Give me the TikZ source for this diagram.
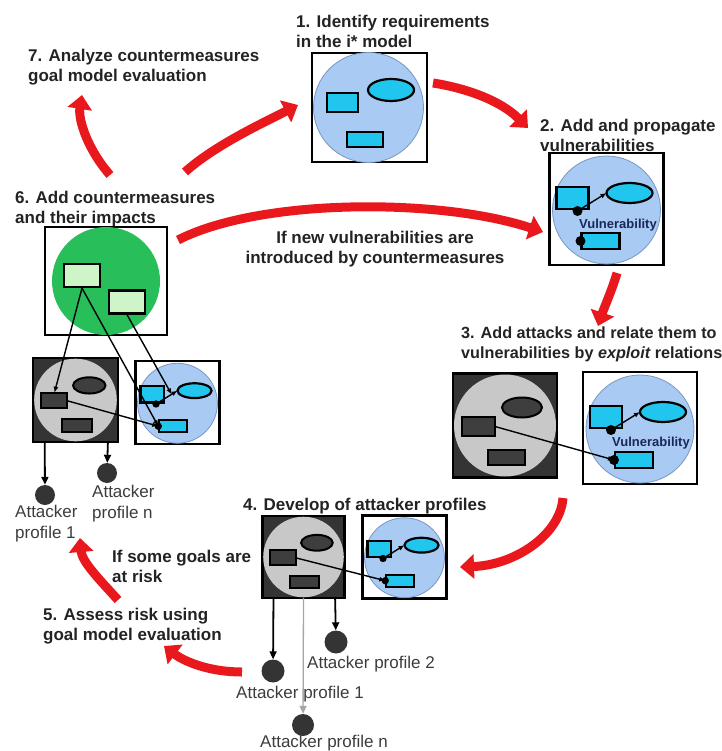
\documentclass[tikz,border=0pt]{standalone}
\usepackage{fontspec}
\setmainfont{Liberation Sans}
\usetikzlibrary{arrows.meta}
\definecolor{flowred}{RGB}{232,24,28}
\definecolor{vulnblue}{RGB}{168,202,243}
\definecolor{vulnedge}{RGB}{120,150,195}
\definecolor{goalcyan}{RGB}{32,198,238}
\definecolor{cmgreen}{RGB}{40,190,90}
\definecolor{cmlight}{RGB}{205,245,200}
\definecolor{attdark}{RGB}{52,52,52}
\definecolor{attlight}{RGB}{200,200,200}
\definecolor{attgray}{RGB}{62,62,62}
\definecolor{inktext}{RGB}{35,35,35}
\definecolor{proftext}{RGB}{60,60,60}
\definecolor{vulntext}{RGB}{25,40,90}

\begin{document}
\begin{tikzpicture}[
  x=1pt, y=-1pt,
  flow/.style={flowred, line width=9pt, -{Triangle[length=14pt,width=24pt]}},
  title/.style={font=\fontsize{17}{20}\selectfont\bfseries, text=inktext, align=left, inner sep=0pt},
  note/.style={title, align=center},
  proflabel/.style={font=\fontsize{17}{21}\selectfont, text=proftext, align=left, inner sep=0pt},
  vulnlabel/.style={font=\fontsize{13}{15}\selectfont\bfseries, text=vulntext, inner sep=0pt},
  modelbox/.style={draw=black, fill=white, line width=2.6pt},
  vulncircle/.style={draw=vulnedge, fill=vulnblue, line width=.8pt},
  goalpart/.style={draw=black, fill=goalcyan, line width=2.2pt},
  attbox/.style={draw=black, fill=attdark, line width=2.2pt},
  attpart/.style={draw=black, fill=attgray, line width=2pt},
  cmpart/.style={draw=black, fill=cmlight, line width=2.2pt, minimum width=36pt, minimum height=23pt},
  link/.style={line width=1.4pt, -{Latex[length=6pt,width=5pt]}},
  profdot/.style={circle, fill=attdark, inner sep=0pt, minimum size=23pt},
  profarrow/.style={line width=1.8pt, -{Triangle[length=8pt,width=7pt]}},
  goalmodel/.pic={
    \draw[modelbox] (-57.5,-54.5) rectangle (57.5,54.5);
    \draw[vulncircle] (-1,0) circle[radius=55];
    \draw[goalpart] (-42.5,-14.5) rectangle (-11.5,4.5);
    \draw[goalpart] (21.5,-17.5) ellipse[x radius=23,y radius=11];
    \draw[goalpart] (-22.5,24.5) rectangle (13.5,39.5);
  },
  vulnmodel/.pic={
    \draw[modelbox] (-57,-56) rectangle (57,56);
    \draw[vulncircle] (0,1) circle[radius=54];
    \draw[goalpart] (-50,-22) rectangle (-18,0);
    \draw[goalpart] (23,-16) ellipse[x radius=23,y radius=10];
    \draw[goalpart] (-25,24) rectangle (13,40);
    \coordinate (-dot) at (-29,2);
    \coordinate (-dotb) at (-26,32);
    \coordinate (-goal) at (0,-16);
    \coordinate (-mid) at (-8,-11);
    \fill (-dot) circle[radius=5];
    \fill (-dotb) circle[radius=5];
    \draw[link] (-dot) -- (-goal);
  },
  attackmodel/.pic={
    \draw[attbox] (-52,-52) rectangle (52,52);
    \fill[attlight] (0,0) circle[radius=51];
    \draw[attpart] (17,-18) ellipse[x radius=20,y radius=10];
    \draw[attpart] (-43,-9) rectangle (-10,10);
    \draw[attpart] (-17,24) rectangle (20,39);
    \coordinate (-act) at (-10,1);
    \coordinate (-acttop) at (-26,-9);
    \coordinate (-pl) at (-38,52);
    \coordinate (-pm) at (0,52);
    \coordinate (-pr) at (40,52);
  },
]
\useasboundingbox (0,0) rectangle (721,751);

% step titles (base = last line)
\node[title, anchor=base west] (s1) at (296,48) {1. Identify requirements\\in the i* model};
\node[title, anchor=base west] (s2) at (540,152) {2. Add and propagate\\vulnerabilities};
\node[title, anchor=base west, font=\fontsize{16.2}{20}\selectfont\bfseries] (s3) at (461,358) {3. Add attacks and relate them to\\vulnerabilities by {\itshape exploit} relations};
\node[title, anchor=base west] (s4) at (243,510) {4. Develop of attacker profiles};
\node[title, anchor=base west] (s5) at (43,640) {5. Assess risk using\\goal model evaluation};
\node[title, anchor=base west] (s6) at (15,223) {6. Add countermeasures\\and their impacts};
\node[title, anchor=base west] (s7) at (28,82) {7. Analyze countermeasures\\goal model evaluation};
\node[title, anchor=base west] (risk) at (112,582) {If some goals are\\at risk};
\node[note, anchor=base] (newvuln) at (375,263) {If new vulnerabilities are\\introduced by countermeasures};

% models
\pic (g1) at (369.5,107.5) {goalmodel};
\pic (v2) at (606.5,209) {vulnmodel};
\pic (a3) at (505,425.5) {attackmodel};
\pic (v3) at (640,428) {vulnmodel};
\pic[scale=.79] (a4) at (303.5,557) {attackmodel};
\pic[scale=.74] (v4) at (404.5,557) {vulnmodel};
\pic[scale=.81] (a5) at (75.5,400) {attackmodel};
\pic[scale=.74] (v5) at (177.5,402.5) {vulnmodel};
\node[vulnlabel] (v2lab) at (618,225) {Vulnerability};
\node[vulnlabel] (v3lab) at (651,443) {Vulnerability};

% countermeasures
\draw[modelbox] (45,227) rectangle (167,335);
\fill[cmgreen] (106,281) circle[radius=54];
\node[cmpart] (cm1) at (82,275.5) {};
\node[cmpart] (cm2) at (127,302) {};

% exploit and impact links
\draw[link] (a3-act) -- (v3-dotb);
\draw[link] (a4-act) -- (v4-dotb);
\draw[link] (a5-act) -- (v5-dotb);
\draw[link] (cm1.south) -- (a5-acttop);
\draw[link] (cm1.south) -- (v5-dotb);
\draw[link] (cm2.south) -- (v5-mid);

% attacker profiles
\node[profdot] (a4p1) at (273,671) {};
\node[profdot] (a4p2) at (336,642) {};
\node[profdot, minimum size=22pt] (a4pn) at (303,725) {};
\node[profdot, minimum size=20pt] (a5p1) at (45,495) {};
\node[profdot, minimum size=20pt] (a5pn) at (107,473) {};
\draw[profarrow] (a4-pl) -- (a4p1);
\draw[profarrow] (a4-pr) -- (a4p2);
\draw[profarrow, line width=1.3pt, gray!70] (a4-pm) -- (a4pn);
\draw[profarrow] (a5-pl) -- (a5p1);
\draw[profarrow] (a5-pr) -- (a5pn);
\node[proflabel, anchor=base] (a4p1lab) at (300,698) {Attacker profile 1};
\node[proflabel, anchor=base west] (a4p2lab) at (307,668) {Attacker profile 2};
\node[proflabel, anchor=base] (a4pnlab) at (324,747) {Attacker profile n};
\node[proflabel, anchor=base west] (a5p1lab) at (15,538) {Attacker\\profile 1};
\node[proflabel, anchor=base west] (a5pnlab) at (92,518) {Attacker\\profile n};

% process flow
\coordinate (f12s) at (433,83);   \coordinate (f12e) at (528,128);
\coordinate (f23s) at (617,273);  \coordinate (f23e) at (598,326);
\coordinate (f34s) at (563,498);  \coordinate (f34e) at (460,567);
\coordinate (f45s) at (242,672);  \coordinate (f45e) at (164,646);
\coordinate (f56s) at (118,600);  \coordinate (f56e) at (80,538);
\coordinate (f61s) at (185,172);  \coordinate (f61e) at (298,105);
\coordinate (f62s) at (178,240);  \coordinate (f62e) at (543,232);
\coordinate (f67s) at (110,175);  \coordinate (f67e) at (82,95);
\draw[flow] (f12s) .. controls (465,88) and (500,100) .. (f12e);
\draw[flow] (f23s) .. controls (612,290) and (604,308) .. (f23e);
\draw[flow] (f34s) .. controls (560,535) and (515,565) .. (f34e);
\draw[flow] (f45s) .. controls (210,672) and (185,662) .. (f45e);
\draw[flow] (f56s) .. controls (100,580) and (82,562) .. (f56e);
\draw[flow] (f61s) .. controls (215,145) and (265,122) .. (f61e);
\draw[flow] (f62s) .. controls (260,198) and (440,198) .. (f62e);
\draw[flow] (f67s) .. controls (88,150) and (78,120) .. (f67e);
\end{tikzpicture}
\end{document}
